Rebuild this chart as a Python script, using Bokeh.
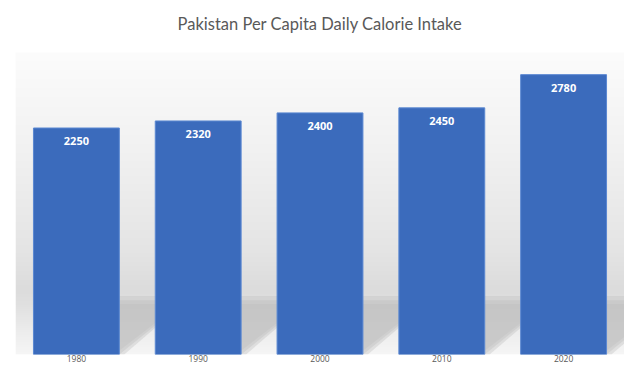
import numpy as np
from bokeh.plotting import figure
from bokeh.models import FixedTicker, Range1d, ColumnDataSource, Title
from bokeh.core.properties import value
from bokeh.embed import file_html
from bokeh.resources import INLINE

# ---- data ----
years = [1980, 1990, 2000, 2010, 2020]
calories = [2250, 2320, 2400, 2450, 2780]
title_text = "Pakistan Per Capita Daily Calorie Intake"

# ---- style ----
BAR_W = 7.05          # in years
SHADOW_DX = 5.5       # years
SHADOW_H = 540        # y units
TEXT_GRAY = "#595959"

p = figure(width=624, height=364, output_backend="svg", toolbar_location=None,
           x_range=Range1d(1975, 2025), y_range=Range1d(0, 3000),
           min_border_left=15, min_border_right=0, min_border_top=52, min_border_bottom=0)
# spacer between title and plot area
p.add_layout(Title(text=" ", text_font_size="2px", align="center"), "above")
p.add_layout(Title(text=title_text, align="center", text_font="Lato",
                   text_font_size="16.5px", text_font_style="normal",
                   text_color=TEXT_GRAY), "above")
p.background_fill_color = "white"
p.border_fill_color = "white"
p.outline_line_color = None
p.grid.visible = False
p.yaxis.visible = False

# background gradient (styling)
stops_y = np.array([0, 250, 500, 650, 1000, 2000, 3000], dtype=float)
stops_c = np.array([0xf6, 0xec, 0xe0, 0xdc, 0xe4, 0xf1, 0xfc], dtype=float)
ny = 300
ys = (np.arange(ny) + 0.5) / ny * 3000
g = np.interp(ys, stops_y, stops_c).astype(np.uint32)
img = np.empty((ny, 1), dtype=np.uint32)
view = img.view(dtype=np.uint8).reshape((ny, 1, 4))
view[:, :, 0] = g.reshape(-1, 1)
view[:, :, 1] = g.reshape(-1, 1)
view[:, :, 2] = g.reshape(-1, 1)
view[:, :, 3] = 255
p.image_rgba(image=[img], x=1975, y=0, dw=50, dh=3000)

# floor shadows (soft, layered)
for grow, alpha in [(1.0, 0.3), (0.0, 0.35), (-1.0, 0.35)]:
    xs, ysh = [], []
    for yr in years:
        L = yr - BAR_W / 2
        R = yr + BAR_W / 2
        xs.append([L, R - grow * 0.4, R + SHADOW_DX + grow * 0.3, L + SHADOW_DX + grow * 0.3])
        top = SHADOW_H + grow * 40
        ysh.append([0, 0, top, top])
    p.patches(xs, ysh, fill_color="#bababa", fill_alpha=alpha, line_color=None)

src = ColumnDataSource(dict(year=years, cal=calories, lab=[str(c) for c in calories]))
p.vbar(x="year", top="cal", width=BAR_W, bottom=0, source=src,
       fill_color="#3b6bbc", line_color="#5b88d2", line_width=1)
p.text(x="year", y="cal", text="lab", source=src, text_align="center",
       text_baseline="middle", y_offset=13, text_color="white",
       text_font=value("Open Sans"), text_font_style="bold", text_font_size="11px")

p.xaxis.ticker = FixedTicker(ticks=years)
p.xaxis.axis_line_color = None
p.xaxis.major_tick_line_color = None
p.xaxis.minor_tick_line_color = None
p.xaxis.major_tick_out = 0
p.xaxis.major_tick_in = 0
p.xaxis.major_label_standoff = 0
p.xaxis.major_label_text_font = "Open Sans"
p.xaxis.major_label_text_font_size = "8.5px"
p.xaxis.major_label_text_color = TEXT_GRAY

open("out.html", "w").write(file_html(p, INLINE))
